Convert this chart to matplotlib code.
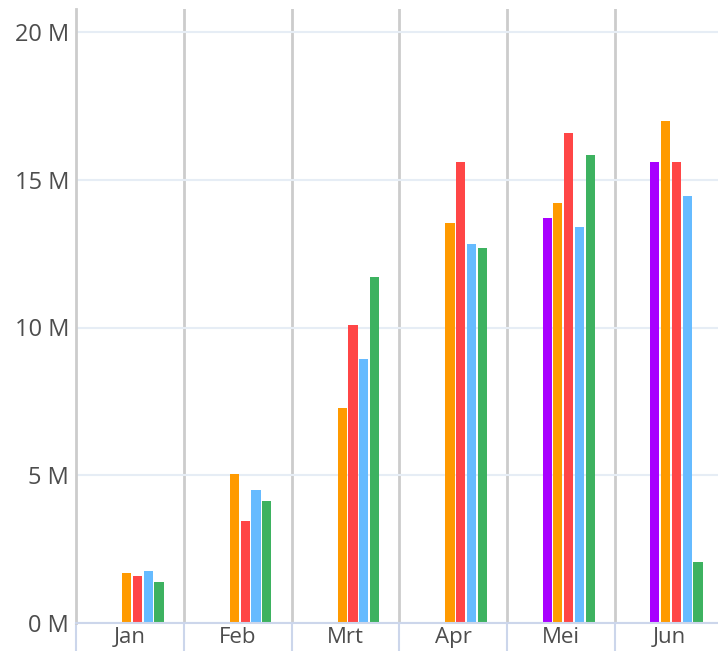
import matplotlib
matplotlib.use('Agg')
import matplotlib.pyplot as plt
import numpy as np

months = ['Jan', 'Feb', 'Mrt', 'Apr', 'Mei', 'Jun']
series_colors = ['#a800ff', '#ff9a00', '#ff4646', '#66bbff', '#3db260']

# values in millions, None = no bar
purple = [None, None, None, None, 13.70, 15.60]
orange = [1.68, 5.05, 7.28, 13.54, 14.21, 16.98]
red    = [1.60, 3.45, 10.08, 15.60, 16.59, 15.60]
blue   = [1.76, 4.51, 8.93, 12.83, 13.39, 14.45]
green  = [1.38, 4.13, 11.71, 12.69, 15.83, 2.05]
series = [purple, orange, red, blue, green]

yticks = [0, 5, 10, 15, 20]

plt.rcParams['font.family'] = ['Open Sans', 'DejaVu Sans']

fig = plt.figure(figsize=(7.18, 6.53), dpi=100)
ax = fig.add_axes([76/718, 30/653, 642/718, 614/653])

x = np.arange(len(months))
start, step, width = -0.13, 0.1, 0.085
for i, (vals, col) in enumerate(zip(series, series_colors)):
    xs = [xx + start + i*step for xx, v in zip(x, vals) if v is not None]
    hs = [v for v in vals if v is not None]
    ax.bar(xs, hs, width=width, color=col, zorder=3)

ax.set_xlim(-0.5, -0.5 + 642/107.8)
ax.set_ylim(0, 20 + 23/29.55)

for b in np.arange(0.5, 5.5, 1):
    ax.axvline(b, color='#cccccc', lw=2, zorder=1)

ax.set_yticks(yticks)
ax.set_yticklabels([f'{t} M' for t in yticks])
ax.yaxis.grid(True, color='#e6edf5', lw=1.5, zorder=0)
ax.tick_params(axis='y', length=0, pad=5, labelsize=17, labelcolor='#4d4d4d')

ax.set_xticks(x)
ax.set_xticklabels(months)
ax.set_xticks(np.arange(-0.5, 5.5, 1), minor=True)
ax.tick_params(axis='x', which='major', length=0, pad=3, labelsize=16, labelcolor='#4d4d4d')
ax.tick_params(axis='x', which='minor', length=20, width=1.5, color='#ccd6eb')

for s in ['top', 'right']:
    ax.spines[s].set_visible(False)
ax.spines['left'].set_color('#cccccc')
ax.spines['left'].set_linewidth(2)
ax.spines['bottom'].set_color('#ccd6eb')
ax.spines['bottom'].set_linewidth(1.5)
ax.spines['bottom'].set_zorder(4)

fig.savefig('out.png', dpi=100)
